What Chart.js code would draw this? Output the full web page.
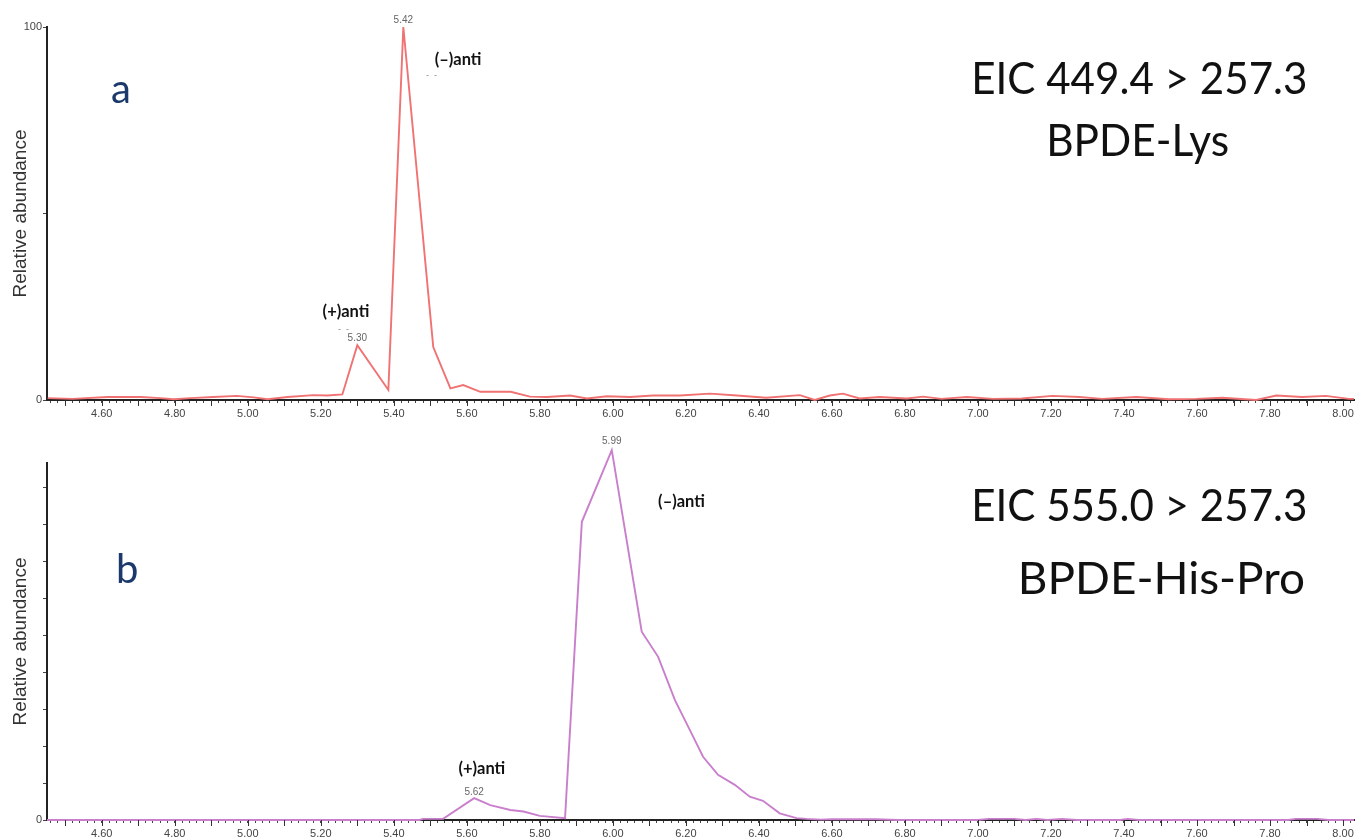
<!DOCTYPE html>
<html><head><meta charset="utf-8">
<script src="https://cdn.jsdelivr.net/npm/chart.js@4.4.1/dist/chart.umd.min.js"></script>
<style>
html,body{margin:0;padding:0;background:#fff;width:1358px;height:839px;overflow:hidden}
canvas{position:absolute;left:0}
#cA{top:0}
#cB{top:424px}
</style></head><body>
<canvas id="cA" width="1358" height="424"></canvas>
<canvas id="cB" width="1358" height="415"></canvas>
<script>
// ---------------- data ----------------
// Panel a: EIC 449.4 > 257.3 (BPDE-Lys)
const timesA = [4.452,4.52,4.616,4.707,4.76,4.797,4.843,4.906,4.97,5.016,5.054,5.109,5.18,5.218,5.259,
  5.300,5.385,5.426,5.508,5.555,5.59,5.637,5.72,5.773,5.82,5.883,5.929,5.984,6.047,6.11,6.184,6.266,
  6.34,6.42,6.512,6.553,6.594,6.63,6.676,6.731,6.805,6.85,6.90,6.97,7.04,7.12,7.204,7.278,7.34,7.434,
  7.524,7.598,7.669,7.762,7.817,7.888,7.953,8.016,8.03];
const valuesA = [0.5,0.3,0.8,0.8,0.5,0.2,0.5,0.8,1.1,0.7,0.2,0.8,1.3,1.2,1.5,
  14.7,2.7,100,14.2,3.1,4.0,2.2,2.2,0.9,0.8,1.2,0.4,1.0,0.8,1.2,1.2,1.7,
  1.2,0.6,1.3,0.0,1.2,1.7,0.4,0.8,0.4,0.9,0.3,0.8,0.3,0.4,1.1,0.8,0.3,0.8,
  0.2,0.3,0.6,0.0,1.2,0.8,1.1,0.3,0.3];
// Panel b: EIC 555.0 > 257.3 (BPDE-His-Pro)
const timesB = [4.45,5.47,5.48,5.535,5.62,5.664,5.719,5.755,5.80,5.869,5.915,5.997,6.079,6.124,6.170,
  6.211,6.247,6.288,6.334,6.375,6.411,6.457,6.503,6.53,6.57,6.60,6.72,6.78,7.00,7.03,7.10,7.13,7.16,
  7.19,7.23,7.27,7.39,7.41,7.44,7.85,7.87,7.93,7.96,8.03];
const valuesB = [0,0,0.3,0.3,5.9,4.0,2.7,2.3,1.1,0.5,80.6,100,50.9,44.1,32.4,
  24.3,17.1,12.2,9.5,6.3,5.2,1.8,0.5,0.3,0.1,0.2,0.2,0,0,0.3,0.3,0,0.3,
  0,0.3,0,0,0.3,0,0,0.3,0.3,0,0];

// retention-time labels over the peaks
const peakLabelsA = ['5.30','5.42'];
const peakTimesA = [5.300, 5.426];
const peakValuesA = [14.7, 100];
const peakLabelsB = ['5.62','5.99'];
const peakTimesB = [5.62, 5.997];
const peakValuesB = [5.9, 100];

// isomer annotations (data coordinates)
const annTextsA = ['(+)anti','(\u2013)anti'];
const annTimesA = [5.269, 5.576];
const annValuesA = [23.7, 91.2];
const annTextsB = ['(+)anti','(\u2013)anti'];
const annTimesB = [5.641, 6.188];
const annValuesB = [13.8, 86.0];
// small grey marks under the annotations
const dashTimesA = [5.262, 5.503];
const dashValuesA = [19.0, 86.9];

// axes
const xMin = 4.45, xMax = 8.03;
const xTickStep = 0.02;          // minor tick spacing (min)
const xLabelEvery = 0.2;         // labelled ticks
const yTicksLabelledA = [0, 100];
const yTicksLabelledB = [0];

// ---------------- drawing ----------------
Chart.defaults.font.family = "'Liberation Sans', Arial, sans-serif";
Chart.defaults.color = '#555';

function fitText(ctx, text, left, right, baseline, font, color) {
  ctx.save();
  ctx.font = font; ctx.fillStyle = color;
  ctx.textBaseline = 'alphabetic'; ctx.textAlign = 'left';
  const m = ctx.measureText(text);
  const ink = m.actualBoundingBoxRight + m.actualBoundingBoxLeft;
  const s = right == null ? 1 : (right - left) / ink;
  ctx.translate(left + m.actualBoundingBoxLeft * s, baseline);
  ctx.scale(s, 1);
  ctx.fillText(text, 0, 0);
  ctx.restore();
}

function makeDecor(cfg) {
  return {
    id: 'decor',
    afterDatasetsDraw(chart) {
      const ctx = chart.ctx, xs = chart.scales.x, ys = chart.scales.y;
      ctx.save();
      // longer ticks every 0.1 min
      ctx.strokeStyle = '#333'; ctx.lineWidth = 1;
      for (let k = Math.ceil(xs.min * 10 - 1e-6); k <= Math.floor(xs.max * 10 + 1e-6); k++) {
        const px = Math.round(xs.getPixelForValue(k / 10)) + 0.5;
        ctx.beginPath(); ctx.moveTo(px, xs.top); ctx.lineTo(px, xs.top + 6); ctx.stroke();
      }
      // retention time labels
      ctx.font = "10px 'Liberation Sans', Arial, sans-serif";
      ctx.fillStyle = '#666'; ctx.textAlign = 'center'; ctx.textBaseline = 'middle';
      cfg.peakLabels.forEach((t, i) => {
        ctx.fillText(t, xs.getPixelForValue(cfg.peakTimes[i]), ys.getPixelForValue(cfg.peakValues[i]) - cfg.peakOff[i]);
      });
      // small dashes
      if (cfg.dashTimes) {
        ctx.font = "9px 'Liberation Sans', Arial, sans-serif";
        ctx.fillStyle = '#888';
        cfg.dashTimes.forEach((t, i) => {
          ctx.fillText('-  -', xs.getPixelForValue(t), ys.getPixelForValue(cfg.dashValues[i]));
        });
      }
      // isomer annotations
      ctx.font = "bold 16.5px Lato, 'Open Sans', sans-serif";
      ctx.fillStyle = '#111';
      cfg.annTexts.forEach((t, i) => {
        ctx.fillText(t, xs.getPixelForValue(cfg.annTimes[i]), ys.getPixelForValue(cfg.annValues[i]));
      });
      ctx.restore();
      // panel letters and titles
      cfg.texts.forEach(o => fitText(ctx, o.text, o.left, o.right, o.base, o.font, o.color));
    }
  };
}

function makeChart(id, times, values, color, yMax, yStep, labelled, xHeight, padTop, decorCfg) {
  return new Chart(document.getElementById(id), {
    type: 'line',
    data: {
      datasets: [{
        data: times.map((t, i) => ({x: t, y: values[i]})),
        borderColor: color, borderWidth: 1.9, pointRadius: 0, tension: 0, fill: false, clip: false
      }]
    },
    options: {
      responsive: false, animation: false, devicePixelRatio: 1,
      layout: {padding: {top: padTop, right: 4, left: 0, bottom: 0}},
      plugins: {legend: {display: false}, tooltip: {enabled: false}},
      scales: {
        x: {
          type: 'linear', min: xMin, max: xMax,
          border: {display: true, color: '#222', width: 2},
          grid: {drawOnChartArea: false, drawTicks: true, tickLength: 3, tickColor: '#444', tickWidth: 1},
          ticks: {
            autoSkip: false, maxRotation: 0, minRotation: 0,
            padding: 4, color: '#444', font: {size: 11},
            callback: v => (Math.round(v * 100) % Math.round(xLabelEvery * 100) === 0) ? v.toFixed(2) : ''
          },
          afterBuildTicks: s => {
            const n = Math.round(1 / xTickStep), t = [];
            for (let k = Math.ceil(xMin * n - 1e-9); k <= Math.floor(xMax * n + 1e-9); k++) t.push({value: k / n});
            s.ticks = t;
          },
          afterFit: s => { s.height = xHeight; }
        },
        y: {
          type: 'linear', min: 0, max: yMax,
          border: {display: true, color: '#222', width: 2},
          grid: {drawOnChartArea: false, drawTicks: true, tickLength: 4, tickColor: '#444'},
          ticks: {
            stepSize: yStep, maxTicksLimit: 100, autoSkip: false, includeBounds: false, padding: 1, color: '#444', font: {size: 11},
            callback: v => labelled.includes(v) ? String(v) : ''
          },
          title: {display: true, text: 'Relative abundance', color: '#333',
                  font: {size: 19, family: "'Liberation Sans', Arial, sans-serif"}, padding: {top: 9, bottom: 0}},
          afterFit: s => { s.width = 47; }
        }
      }
    },
    plugins: [makeDecor(decorCfg)]
  });
}

const titleFont = "44px Lato, 'Open Sans', sans-serif";
const letterFont = "40px Lato, 'Open Sans', sans-serif";
const letterColor = '#1b3a6b';

makeChart('cA', timesA, valuesA, '#f07272', 100, 50, yTicksLabelledA, 24, 27, {
  peakLabels: peakLabelsA, peakTimes: peakTimesA, peakValues: peakValuesA, peakOff: [7, 7],
  annTexts: annTextsA, annTimes: annTimesA, annValues: annValuesA,
  dashTimes: dashTimesA, dashValues: dashValuesA,
  texts: [
    {text: 'a', left: 112, right: null, base: 103, font: letterFont, color: letterColor},
    {text: 'EIC 449.4 > 257.3', left: 975, right: 1306, base: 94, font: titleFont, color: '#111'},
    {text: 'BPDE-Lys', left: 1050, right: 1228, base: 156, font: titleFont, color: '#111'}
  ]
});

makeChart('cB', timesB, valuesB, '#c97fcc', 96.5, 10, yTicksLabelledB, 19, 39, {
  peakLabels: peakLabelsB, peakTimes: peakTimesB, peakValues: peakValuesB, peakOff: [6, 9],
  annTexts: annTextsB, annTimes: annTimesB, annValues: annValuesB,
  texts: [
    {text: 'b', left: 118, right: null, base: 159, font: letterFont, color: letterColor},
    {text: 'EIC 555.0 > 257.3', left: 975, right: 1306, base: 97, font: titleFont, color: '#111'},
    {text: 'BPDE-His-Pro', left: 1022, right: 1304, base: 170, font: titleFont, color: '#111'}
  ]
});
</script>
</body></html>
